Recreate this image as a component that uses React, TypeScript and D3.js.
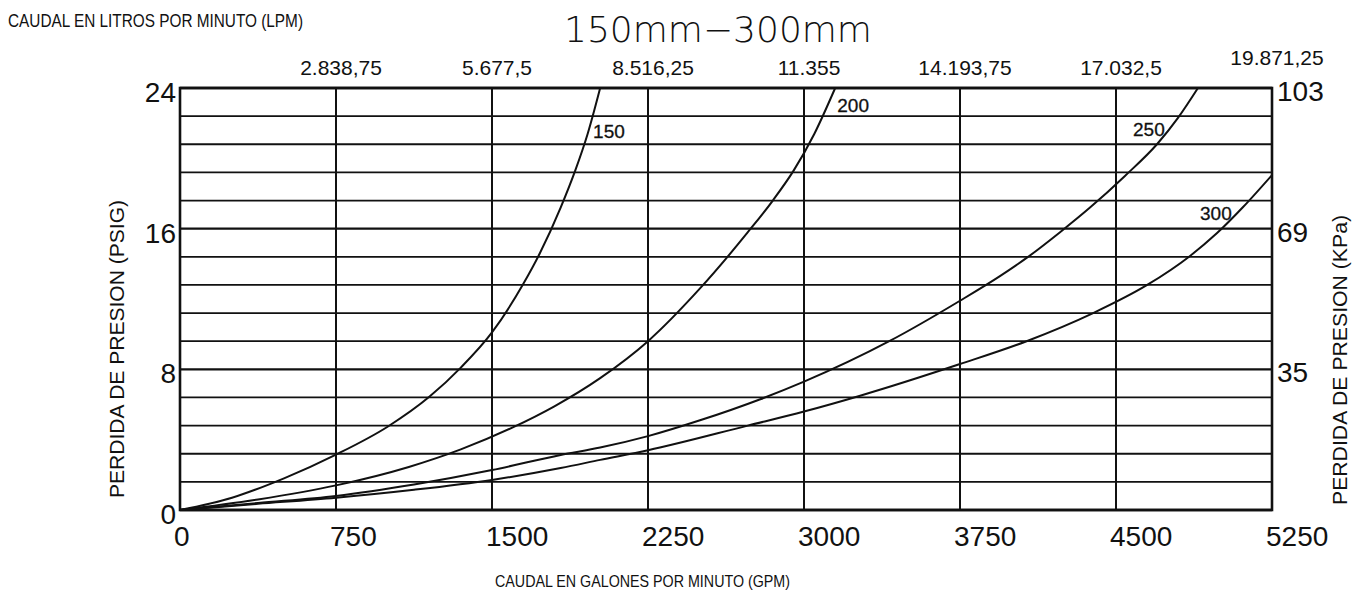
import React, { useEffect, useRef } from 'react';
import * as d3 from 'd3';

// GPM ticks on the bottom axis and matching LPM labels on top
const gpmTicks = [0, 750, 1500, 2250, 3000, 3750, 4500, 5250];
const lpmLabels = ['', '2.838,75', '5.677,5', '8.516,25', '11.355', '14.193,75', '17.032,5', '19.871,25'];

// PSI ticks (left) and kPa labels (right)
const psiTicks = [0, 8, 16, 24];
const kpaLabels = ['', '35', '69', '103'];
const psiGrid = d3.range(0, 16).map(i => i * 1.6);

// curves: [gpm, psi]
const curve150: [number, number][] = [
  [0, 0], [250, 0.7], [500, 1.8], [750, 3.15], [1000, 4.75], [1200, 6.45], [1350, 8.1],
  [1500, 10.1], [1650, 12.85], [1730, 14.6], [1830, 17.2], [1900, 19.3], [1960, 21.4], [2020, 24],
];
const curve200: [number, number][] = [
  [0, 0], [375, 0.6], [750, 1.4], [1100, 2.45], [1350, 3.45], [1600, 4.7], [1800, 5.9],
  [2020, 7.5], [2250, 9.6], [2500, 12.6], [2730, 15.8], [2850, 17.6], [2950, 19.3],
  [3050, 21.4], [3150, 24],
];
const curve250: [number, number][] = [
  [0, 0], [375, 0.4], [750, 0.8], [1125, 1.45], [1500, 2.27], [1830, 3.13], [2020, 3.55],
  [2250, 4.2], [2500, 5.1], [2790, 6.3], [3000, 7.3], [3410, 9.6], [3750, 11.9],
  [3942, 13.3], [4072, 14.35], [4231, 15.8], [4375, 17.2], [4543, 19.0], [4697, 20.8],
  [4798, 22.3], [4894, 24],
];
const curve300: [number, number][] = [
  [0, 0], [375, 0.35], [750, 0.7], [1125, 1.15], [1500, 1.71], [1830, 2.39], [2020, 2.85],
  [2250, 3.4], [2730, 4.8], [3000, 5.6], [3270, 6.5], [3750, 8.3], [4070, 9.6],
  [4390, 11.2], [4650, 12.8], [4856, 14.45], [4986, 15.75], [5111, 17.23], [5250, 19.05],
];

const curves = [
  { name: '150', pts: curve150, label: [1986, 21.16] },
  { name: '200', pts: curve200, label: [3160, 22.64] },
  { name: '250', pts: curve250, label: [4582, 21.27] },
  { name: '300', pts: curve300, label: [4904, 16.5] },
];

const App = () => {
  const svgRef = useRef<SVGSVGElement>(null);

  useEffect(() => {
    if (!svgRef.current) return;
    const svg = d3.select(svgRef.current);
    svg.selectAll('*').remove();

    const left = 180, right = 1272, top = 88, bottom = 510;
    const x = d3.scaleLinear().domain([0, 5250]).range([left, right]);
    const y = d3.scaleLinear().domain([0, 24]).range([bottom, top]);
    const font = 'Liberation Sans, Arial, sans-serif';
    const ink = '#111';

    // horizontal grid
    svg.append('g')
      .selectAll('line')
      .data(psiGrid)
      .join('line')
      .attr('x1', left).attr('x2', right)
      .attr('y1', d => y(d)).attr('y2', d => y(d))
      .attr('stroke', ink)
      .attr('stroke-width', d => (Math.abs(d % 8) < 0.01 ? 2.4 : 1.8));

    // vertical grid
    svg.append('g')
      .selectAll('line')
      .data(gpmTicks)
      .join('line')
      .attr('x1', d => x(d)).attr('x2', d => x(d))
      .attr('y1', top).attr('y2', bottom)
      .attr('stroke', ink)
      .attr('stroke-width', 2);

    // frame
    svg.append('rect')
      .attr('x', left).attr('y', top)
      .attr('width', right - left).attr('height', bottom - top)
      .attr('fill', 'none').attr('stroke', ink).attr('stroke-width', 2.6);

    // curves
    const line = d3.line<[number, number]>()
      .x(d => x(d[0]))
      .y(d => y(d[1]))
      .curve(d3.curveMonotoneX);

    svg.append('g')
      .selectAll('path')
      .data(curves)
      .join('path')
      .attr('d', d => line(d.pts))
      .attr('fill', 'none')
      .attr('stroke', ink)
      .attr('stroke-width', 2);

    svg.append('g')
      .selectAll('text')
      .data(curves)
      .join('text')
      .attr('x', d => x(d.label[0]))
      .attr('y', d => y(d.label[1]))
      .attr('font-family', font)
      .attr('font-size', 19)
      .attr('fill', ink)
      .attr('stroke', ink)
      .attr('stroke-width', 0.3)
      .text(d => d.name);

    // bottom ticks
    svg.append('g')
      .selectAll('text')
      .data(gpmTicks)
      .join('text')
      .attr('x', d => x(d) - 6)
      .attr('y', 546)
      .attr('font-family', font)
      .attr('font-size', 28)
      .attr('fill', ink)
      .text(d => String(d));

    // top LPM labels
    svg.append('g')
      .selectAll('text')
      .data(gpmTicks)
      .join('text')
      .attr('x', d => x(d) + 5)
      .attr('y', (d, i) => (i === gpmTicks.length - 1 ? 65 : 75))
      .attr('text-anchor', 'middle')
      .attr('font-family', font)
      .attr('font-size', 21)
      .attr('fill', ink)
      .text((d, i) => lpmLabels[i]);

    // left psi ticks
    svg.append('g')
      .selectAll('text')
      .data(psiTicks)
      .join('text')
      .attr('x', left - 4)
      .attr('y', d => y(d) + 14)
      .attr('text-anchor', 'end')
      .attr('font-family', font)
      .attr('font-size', 28)
      .attr('fill', ink)
      .text(d => String(d));

    // right kPa ticks
    svg.append('g')
      .selectAll('text')
      .data(psiTicks)
      .join('text')
      .attr('x', right + 5)
      .attr('y', d => y(d) + 13)
      .attr('font-family', font)
      .attr('font-size', 28)
      .attr('fill', ink)
      .text((d, i) => kpaLabels[i]);

    // titles
    svg.append('text')
      .attr('x', 718).attr('y', 42)
      .attr('text-anchor', 'middle')
      .attr('font-family', 'DejaVu Sans, sans-serif')
      .attr('font-weight', 200)
      .attr('font-size', 36)
      .attr('fill', ink)
      .text('150mm\u2212300mm');

    svg.append('text')
      .attr('x', 8).attr('y', 27)
      .attr('font-family', font)
      .attr('font-size', 18)
      .attr('textLength', 295)
      .attr('lengthAdjust', 'spacingAndGlyphs')
      .attr('fill', ink)
      .text('CAUDAL EN LITROS POR MINUTO (LPM)');

    svg.append('text')
      .attr('x', 495).attr('y', 587)
      .attr('font-family', font)
      .attr('font-size', 17)
      .attr('textLength', 295)
      .attr('lengthAdjust', 'spacingAndGlyphs')
      .attr('fill', ink)
      .text('CAUDAL EN GALONES POR MINUTO (GPM)');

    svg.append('text')
      .attr('transform', 'translate(124,498) rotate(-90)')
      .attr('font-family', font)
      .attr('font-size', 20)
      .attr('textLength', 298)
      .attr('lengthAdjust', 'spacingAndGlyphs')
      .attr('fill', ink)
      .text('PERDIDA DE PRESION (PSIG)');

    svg.append('text')
      .attr('transform', 'translate(1347,505) rotate(-90)')
      .attr('font-family', font)
      .attr('font-size', 20)
      .attr('textLength', 290)
      .attr('lengthAdjust', 'spacingAndGlyphs')
      .attr('fill', ink)
      .text('PERDIDA DE PRESION (KPa)');
  }, []);

  return (
    <div style={{ position: 'fixed', left: 0, top: 0, width: 1354, height: 591, background: '#fff' }}>
      <svg ref={svgRef} width={1354} height={591} style={{ display: 'block' }}></svg>
    </div>
  );
};

export default App;
